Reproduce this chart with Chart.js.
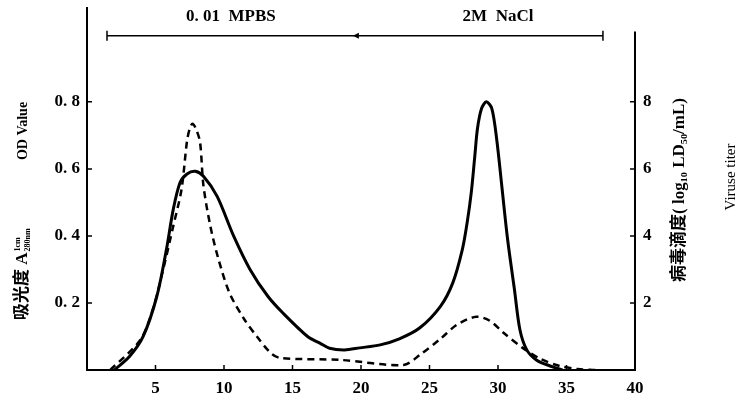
<!DOCTYPE html>
<html>
<head>
<meta charset="utf-8">
<script src="https://cdn.jsdelivr.net/npm/chart.js@4.4.1/dist/chart.umd.min.js"></script>
<style>
  body { margin: 0; background: #fff; }
</style>
</head>
<body>
<canvas id="elutionChart" width="736" height="404"></canvas>
<script>
// solid curve: absorbance (OD) against elution volume
const odVolume = [2.0, 3.1, 4.1, 5.1, 5.8, 6.3, 6.8, 7.3, 7.9, 8.5, 9.5, 10.7, 11.9, 13.2, 14.3, 16.1, 17.0, 17.7, 18.8, 19.9, 21.4, 22.8, 24.3, 25.8, 26.7, 27.4, 27.75, 28.05, 28.3, 28.5, 28.8, 29.15, 29.55, 29.9, 30.3, 30.7, 31.2, 31.6, 32.1, 32.8, 33.8, 34.7];
const odValue = [0, 0.04, 0.10, 0.22, 0.36, 0.48, 0.56, 0.585, 0.593, 0.578, 0.518, 0.40, 0.30, 0.22, 0.17, 0.10, 0.08, 0.065, 0.06, 0.066, 0.075, 0.093, 0.126, 0.19, 0.26, 0.36, 0.44, 0.53, 0.635, 0.72, 0.78, 0.80, 0.78, 0.69, 0.54, 0.39, 0.24, 0.12, 0.06, 0.03, 0.012, 0];

// dashed curve: virus titer (log10 LD50/mL)
const titerVolume = [1.7, 3.9, 4.8, 5.5, 6.3, 6.9, 7.3, 7.5, 7.7, 7.95, 8.25, 8.5, 9.0, 9.6, 10.4, 11.5, 12.4, 13.4, 14.1, 18.5, 23.1, 24.3, 25.8, 27.0, 28.4, 29.4, 30.4, 31.8, 33.1, 34.5, 35.8, 37.1];
const titerValue = [0, 0.9, 1.8, 2.9, 4.3, 5.39, 6.83, 7.2, 7.35, 7.2, 6.8, 5.5, 4.3, 3.3, 2.3, 1.5, 1.0, 0.51, 0.36, 0.30, 0.15, 0.45, 0.93, 1.35, 1.59, 1.47, 1.11, 0.66, 0.33, 0.12, 0.03, 0];

// tick labels
const xTicks = [5, 10, 15, 20, 25, 30, 35, 40];
const odTicks = [0.2, 0.4, 0.6, 0.8];
const titerTicks = [2, 4, 6, 8];

// buffer bracket across the top
const bufferLabels = ['0. 01  MPBS', '2M  NaCl'];

const tickFont = { family: '"Liberation Serif", serif', size: 17, weight: 'bold' };

const extras = {
  id: 'extras',
  afterDraw(chart) {
    const { ctx, chartArea: a, scales: { x, y, y1 } } = chart;
    ctx.save();
    ctx.strokeStyle = '#000';
    ctx.fillStyle = '#000';

    // right axis line (shorter than the left one)
    ctx.lineWidth = 2;
    ctx.beginPath();
    ctx.moveTo(a.right, y1.getPixelForValue(10.1));
    ctx.lineTo(a.right, a.bottom);
    ctx.stroke();

    // inward tick marks
    ctx.lineWidth = 1.5;
    ctx.beginPath();
    x.ticks.forEach(t => {
      const px = x.getPixelForValue(t.value);
      ctx.moveTo(px, a.bottom); ctx.lineTo(px, a.bottom - 5);
    });
    y.ticks.forEach(t => {
      const py = y.getPixelForValue(t.value);
      ctx.moveTo(a.left, py); ctx.lineTo(a.left + 5, py);
    });
    y1.ticks.forEach(t => {
      const py = y1.getPixelForValue(t.value);
      ctx.moveTo(a.right, py); ctx.lineTo(a.right - 5, py);
    });
    ctx.stroke();

    // bracket
    const by = y.getPixelForValue(0.997);
    const bx0 = x.getPixelForValue(1.46), bx1 = x.getPixelForValue(37.66), bm = x.getPixelForValue(19.7);
    ctx.lineWidth = 1.5;
    ctx.beginPath();
    ctx.moveTo(bx0, by); ctx.lineTo(bx1, by);
    ctx.moveTo(bx0, by - 5); ctx.lineTo(bx0, by + 5);
    ctx.moveTo(bx1, by - 5); ctx.lineTo(bx1, by + 5);
    ctx.stroke();
    ctx.beginPath();
    ctx.moveTo(bm - 4, by); ctx.lineTo(bm + 2, by - 3); ctx.lineTo(bm + 2, by + 3); ctx.closePath();
    ctx.fill();
    ctx.font = 'bold 17px "Liberation Serif", serif';
    ctx.textAlign = 'center';
    ctx.textBaseline = 'middle';
    ctx.fillText(bufferLabels[0], x.getPixelForValue(10.5), by - 19);
    ctx.fillText(bufferLabels[1], x.getPixelForValue(30.0), by - 19);

    // left axis titles
    const rot = (cx, cy, fn) => {
      ctx.save(); ctx.translate(cx, cy); ctx.rotate(-Math.PI / 2); fn(); ctx.restore();
    };
    rot(23, 131, () => {
      ctx.font = 'bold 14px "Liberation Serif", serif';
      ctx.textAlign = 'center'; ctx.textBaseline = 'middle';
      ctx.fillText('OD Value', 0, 0);
    });
    rot(23, 320, () => {
      ctx.font = 'bold 17px "Liberation Serif", "Noto Sans CJK SC"';
      ctx.textAlign = 'left'; ctx.textBaseline = 'middle';
      const main = '吸光度 A';
      ctx.fillText(main, 0, 0);
      const w = ctx.measureText(main).width;
      ctx.font = 'bold 8px "Liberation Serif", serif';
      ctx.fillText('1cm', w + 1, -5);
      ctx.fillText('280nm', w + 1, 5);
    });

    // right axis titles
    rot(680, 190, () => {
      ctx.font = 'bold 17px "Liberation Serif", "Noto Sans CJK SC"';
      ctx.textAlign = 'center'; ctx.textBaseline = 'middle';
      ctx.fillText('病毒滴度( log₁₀ LD₅₀/mL)', 0, 0);
    });
    rot(731, 177, () => {
      ctx.font = '15px "Liberation Serif", serif';
      ctx.textAlign = 'center'; ctx.textBaseline = 'middle';
      ctx.fillText('Viruse titer', 0, 0);
    });
    ctx.restore();
  }
};

const noPadV = s => { s.paddingTop = 0; s.paddingBottom = 0; };

new Chart(document.getElementById('elutionChart').getContext('2d'), {
  type: 'line',
  data: {
    datasets: [
      {
        label: 'OD Value',
        data: odVolume.map((v, i) => ({ x: v, y: odValue[i] })),
        yAxisID: 'y',
        borderColor: '#000',
        borderWidth: 3,
        pointRadius: 0,
        tension: 0.3,
        fill: false
      },
      {
        label: 'Viruse titer',
        data: titerVolume.map((v, i) => ({ x: v, y: titerValue[i] })),
        yAxisID: 'y1',
        borderColor: '#000',
        borderWidth: 2.5,
        borderDash: [7, 5],
        pointRadius: 0,
        tension: 0.3,
        fill: false
      }
    ]
  },
  options: {
    responsive: false,
    animation: false,
    layout: { padding: { top: 8, left: 0, right: 0, bottom: 0 } },
    plugins: { legend: { display: false }, tooltip: { enabled: false } },
    scales: {
      x: {
        type: 'linear',
        min: 0,
        max: 40,
        afterBuildTicks: s => { s.ticks = xTicks.map(v => ({ value: v })); },
        afterFit: s => { s.height = 34; s.paddingLeft = 0; s.paddingRight = 0; },
        grid: { drawOnChartArea: false, drawTicks: false },
        border: { color: '#000', width: 2 },
        ticks: { color: '#000', font: tickFont, padding: 8, maxRotation: 0 }
      },
      y: {
        position: 'left',
        min: 0,
        max: 1.08,
        afterBuildTicks: s => { s.ticks = odTicks.map(v => ({ value: v })); },
        afterFit: s => { s.width = 87; noPadV(s); },
        grid: { drawOnChartArea: false, drawTicks: false },
        border: { color: '#000', width: 2 },
        ticks: { color: '#000', font: tickFont, padding: 7, callback: v => v.toFixed(1).replace('.', '. ') }
      },
      y1: {
        position: 'right',
        min: 0,
        max: 10.8,
        afterBuildTicks: s => { s.ticks = titerTicks.map(v => ({ value: v })); },
        afterFit: s => { s.width = 101; noPadV(s); },
        grid: { drawOnChartArea: false, drawTicks: false },
        border: { display: false },
        ticks: { color: '#000', font: tickFont, padding: 8 }
      }
    }
  },
  plugins: [extras]
});
</script>
</body>
</html>
